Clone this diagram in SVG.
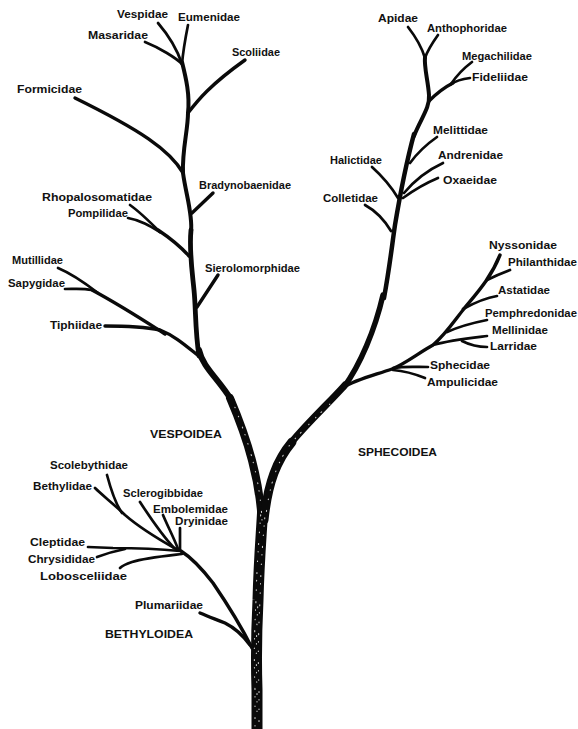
<svg xmlns="http://www.w3.org/2000/svg" width="578" height="729" viewBox="0 0 578 729">
<style>
.lb{font-family:"Liberation Sans",Arial,sans-serif;font-weight:bold;font-size:10px;fill:#111}
.cap{font-family:"Liberation Sans",Arial,sans-serif;font-weight:bold;font-size:11.5px;fill:#111}
.br{fill:none;stroke:#0a0a0a;stroke-linecap:round;stroke-linejoin:round}
.t{stroke-width:2.7}
.m{stroke-width:3.4}
.tex{fill:none;stroke:#fff;stroke-linecap:round;stroke-width:1.1;stroke-dasharray:0.5 7 1 11 0.5 9;opacity:0.8}
</style>
<rect width="578" height="729" fill="#fff"/>
<g id="connectors">
  <!-- trunk -->
  <path class="br" stroke-width="11" d="M257,729 L257,690 C256,660 256,640 258,600 C259,560 261,540 263,505"/>
  <!-- Vespoid main -->
  <path class="br" stroke-width="8" d="M262,525 C260,480 248,440 230,398"/>
  <path class="br" stroke-width="6" d="M232,401 C218,378 203,368 199,350"/>
  <path class="br" stroke-width="4.8" d="M199,356 C195,330 196,310 194,290 C192,270 189,250 191,230"/>
  <path class="br" stroke-width="4" d="M191,232 C193,215 186,195 183,173 C182,150 188,130 188,113 C190,95 186,78 182,62"/>
  <!-- Sphecoid main -->
  <path class="br" stroke-width="9" d="M264,520 C268,482 277,460 292,442"/>
  <path class="br" stroke-width="7" d="M290,444 C310,420 330,402 345,385"/>
  <path class="br" stroke-width="5.5" d="M344,387 C360,365 375,330 383,295"/>
  <path class="br" stroke-width="4.5" d="M384,298 C390,265 392,245 395,225 C400,195 407,160 414,134"/>
  <path class="br" stroke-width="4" d="M414,136 C421,118 430,108 429,95 C428,80 424,68 425,57"/>
  <!-- Vespoid terminals -->
  <path class="br t" d="M182,64 C176,58 160,48 145,42"/>
  <path class="br t" d="M182,64 C178,52 170,37 158,23"/>
  <path class="br t" d="M182,64 C183,52 185,40 188,25"/>
  <path class="br m" d="M188,113 C198,100 210,85 245,60"/>
  <path class="br m" d="M183,173 C170,150 140,130 75,98"/>
  <path class="br m" d="M192,213 L213,193"/>
  <path class="br m" d="M189,256 C180,246 170,238 158,230"/>
  <path class="br t" d="M160,232 C150,222 140,212 130,205"/>
  <path class="br t" d="M160,232 C150,226 140,220 128,218"/>
  <path class="br m" d="M197,307 L218,275"/>
  <path class="br m" d="M200,357 C185,345 175,336 160,330 C140,326 120,326 105,326"/>
  <path class="br m" d="M165,334 C140,318 120,305 92,290"/>
  <path class="br t" d="M98,293 C85,283 70,273 58,268"/>
  <path class="br t" d="M92,290 C82,288 74,289 65,289"/>
  <!-- Sphecoid terminals -->
  <path class="br t" d="M425,58 C422,48 415,36 408,27"/>
  <path class="br t" d="M425,58 C428,49 433,42 438,35"/>
  <path class="br m" d="M429,101 C437,93 445,87 453,83"/>
  <path class="br t" d="M451,84 C457,75 464,68 472,62"/>
  <path class="br t" d="M451,84 C457,80 463,79 470,78"/>
  <path class="br t" d="M410,163 C418,152 427,144 437,137"/>
  <path class="br t" d="M404,193 C414,181 428,170 443,163"/>
  <path class="br t" d="M403,198 C414,190 426,183 438,178"/>
  <path class="br t" d="M398,198 C392,188 382,176 372,167"/>
  <path class="br t" d="M391,231 C385,221 376,211 365,205"/>
  <!-- Sphecid branch -->
  <path class="br m" d="M344,387 C355,380 375,375 392,369 C405,364 420,352 433,345 C445,335 455,320 463,310 C475,295 490,280 500,255"/>
  <path class="br t" d="M487,280 C495,276 502,273 510,270"/>
  <path class="br t" d="M463,309 C474,303 485,298 497,296"/>
  <path class="br t" d="M447,332 C458,327 472,323 487,320"/>
  <path class="br t" d="M433,345 C450,340 470,338 487,336"/>
  <path class="br t" d="M462,341 C470,345 478,347 487,347"/>
  <path class="br t" d="M393,368 C405,366 416,367 428,367"/>
  <path class="br t" d="M393,370 C405,371 415,374 425,378"/>
  <!-- Bethyloid -->
  <path class="br m" d="M252,648 C243,630 228,605 213,583 C203,570 192,558 181,551"/>
  <path class="br m" d="M250,645 C242,634 235,628 225,623 C215,619 207,616 200,613"/>
  <path class="br t" d="M180,551 C160,549 140,548 113,548 L88,547"/>
  <path class="br t" d="M125,549 C115,551 105,554 97,557"/>
  <path class="br t" d="M182,554 C165,556 145,558 132,562 C126,564 122,566 120,568"/>
  <path class="br t" d="M176,549 C160,540 140,528 125,515 C115,505 102,495 95,488"/>
  <path class="br t" d="M122,513 C115,503 111,490 107,475"/>
  <path class="br t" d="M174,548 C162,535 153,522 140,502"/>
  <path class="br t" d="M178,549 C174,538 168,527 163,515"/>
  <path class="br t" d="M180,550 C180,542 180,535 180,528"/>
  <!-- texture -->
  <path class="tex" d="M255,726 L255,690 C254,660 254,640 256,600 C257,560 259,540 261,510"/>
  <path class="tex" stroke-dashoffset="5" d="M259,724 L259,690 C258,660 258,640 260,600 C261,560 263,540 265,515"/>
  <path class="tex" stroke-dashoffset="11" d="M257,720 L257,690 C256,660 256,640 258,600"/>
  <path class="tex" d="M262,520 C260,480 250,445 234,405"/>
  <path class="tex" stroke-dashoffset="4" d="M266,515 C270,482 278,460 292,442 C305,428 318,415 330,404"/>
</g>
<g id="n-vespidae"><text class="lb" x="117" y="18" textLength="51" lengthAdjust="spacingAndGlyphs">Vespidae</text></g>
<g id="n-eumenidae"><text class="lb" x="178" y="21" textLength="62" lengthAdjust="spacingAndGlyphs">Eumenidae</text></g>
<g id="n-masaridae"><text class="lb" x="88" y="39" textLength="60" lengthAdjust="spacingAndGlyphs">Masaridae</text></g>
<g id="n-scoliidae"><text class="lb" x="232" y="56" textLength="48" lengthAdjust="spacingAndGlyphs">Scoliidae</text></g>
<g id="n-formicidae"><text class="lb" x="17" y="93" textLength="65" lengthAdjust="spacingAndGlyphs">Formicidae</text></g>
<g id="n-bradynobaenidae"><text class="lb" x="199" y="189" textLength="92" lengthAdjust="spacingAndGlyphs">Bradynobaenidae</text></g>
<g id="n-rhopalosomatidae"><text class="lb" x="42" y="201" textLength="110" lengthAdjust="spacingAndGlyphs">Rhopalosomatidae</text></g>
<g id="n-pompilidae"><text class="lb" x="68" y="217" textLength="60" lengthAdjust="spacingAndGlyphs">Pompilidae</text></g>
<g id="n-mutillidae"><text class="lb" x="12" y="264" textLength="51" lengthAdjust="spacingAndGlyphs">Mutillidae</text></g>
<g id="n-sapygidae"><text class="lb" x="8" y="287" textLength="57" lengthAdjust="spacingAndGlyphs">Sapygidae</text></g>
<g id="n-sierolomorphidae"><text class="lb" x="205" y="272" textLength="95" lengthAdjust="spacingAndGlyphs">Sierolomorphidae</text></g>
<g id="n-tiphiidae"><text class="lb" x="50" y="329" textLength="52" lengthAdjust="spacingAndGlyphs">Tiphiidae</text></g>
<g id="n-vespoidea"><text class="cap" x="150" y="438" textLength="72" lengthAdjust="spacingAndGlyphs">VESPOIDEA</text></g>
<g id="n-apidae"><text class="lb" x="378" y="22" textLength="40" lengthAdjust="spacingAndGlyphs">Apidae</text></g>
<g id="n-anthophoridae"><text class="lb" x="427" y="32" textLength="80" lengthAdjust="spacingAndGlyphs">Anthophoridae</text></g>
<g id="n-megachilidae"><text class="lb" x="462" y="60" textLength="70" lengthAdjust="spacingAndGlyphs">Megachilidae</text></g>
<g id="n-fideliidae"><text class="lb" x="472" y="81" textLength="56" lengthAdjust="spacingAndGlyphs">Fideliidae</text></g>
<g id="n-melittidae"><text class="lb" x="433" y="134" textLength="55" lengthAdjust="spacingAndGlyphs">Melittidae</text></g>
<g id="n-andrenidae"><text class="lb" x="438" y="159" textLength="65" lengthAdjust="spacingAndGlyphs">Andrenidae</text></g>
<g id="n-oxaeidae"><text class="lb" x="443" y="184" textLength="54" lengthAdjust="spacingAndGlyphs">Oxaeidae</text></g>
<g id="n-halictidae"><text class="lb" x="330" y="164" textLength="52" lengthAdjust="spacingAndGlyphs">Halictidae</text></g>
<g id="n-colletidae"><text class="lb" x="323" y="202" textLength="55" lengthAdjust="spacingAndGlyphs">Colletidae</text></g>
<g id="n-nyssonidae"><text class="lb" x="489" y="249" textLength="68" lengthAdjust="spacingAndGlyphs">Nyssonidae</text></g>
<g id="n-philanthidae"><text class="lb" x="508" y="266" textLength="69" lengthAdjust="spacingAndGlyphs">Philanthidae</text></g>
<g id="n-astatidae"><text class="lb" x="498" y="294" textLength="52" lengthAdjust="spacingAndGlyphs">Astatidae</text></g>
<g id="n-pemphredonidae"><text class="lb" x="485" y="317" textLength="92" lengthAdjust="spacingAndGlyphs">Pemphredonidae</text></g>
<g id="n-mellinidae"><text class="lb" x="492" y="334" textLength="56" lengthAdjust="spacingAndGlyphs">Mellinidae</text></g>
<g id="n-larridae"><text class="lb" x="490" y="350" textLength="47" lengthAdjust="spacingAndGlyphs">Larridae</text></g>
<g id="n-sphecidae"><text class="lb" x="430" y="369" textLength="60" lengthAdjust="spacingAndGlyphs">Sphecidae</text></g>
<g id="n-ampulicidae"><text class="lb" x="427" y="386" textLength="71" lengthAdjust="spacingAndGlyphs">Ampulicidae</text></g>
<g id="n-sphecoidea"><text class="cap" x="358" y="456" textLength="79" lengthAdjust="spacingAndGlyphs">SPHECOIDEA</text></g>
<g id="n-scolebythidae"><text class="lb" x="50" y="469" textLength="78" lengthAdjust="spacingAndGlyphs">Scolebythidae</text></g>
<g id="n-bethylidae"><text class="lb" x="33" y="490" textLength="59" lengthAdjust="spacingAndGlyphs">Bethylidae</text></g>
<g id="n-sclerogibbidae"><text class="lb" x="123" y="497" textLength="80" lengthAdjust="spacingAndGlyphs">Sclerogibbidae</text></g>
<g id="n-embolemidae"><text class="lb" x="153" y="513" textLength="75" lengthAdjust="spacingAndGlyphs">Embolemidae</text></g>
<g id="n-dryinidae"><text class="lb" x="175" y="525" textLength="53" lengthAdjust="spacingAndGlyphs">Dryinidae</text></g>
<g id="n-cleptidae"><text class="lb" x="30" y="546" textLength="55" lengthAdjust="spacingAndGlyphs">Cleptidae</text></g>
<g id="n-chrysididae"><text class="lb" x="28" y="563" textLength="67" lengthAdjust="spacingAndGlyphs">Chrysididae</text></g>
<g id="n-lobosceliidae"><text class="lb" x="40" y="580" textLength="87" lengthAdjust="spacingAndGlyphs">Lobosceliidae</text></g>
<g id="n-plumariidae"><text class="lb" x="135" y="609" textLength="68" lengthAdjust="spacingAndGlyphs">Plumariidae</text></g>
<g id="n-bethyloidea"><text class="cap" x="105" y="638" textLength="88" lengthAdjust="spacingAndGlyphs">BETHYLOIDEA</text></g>
</svg>
